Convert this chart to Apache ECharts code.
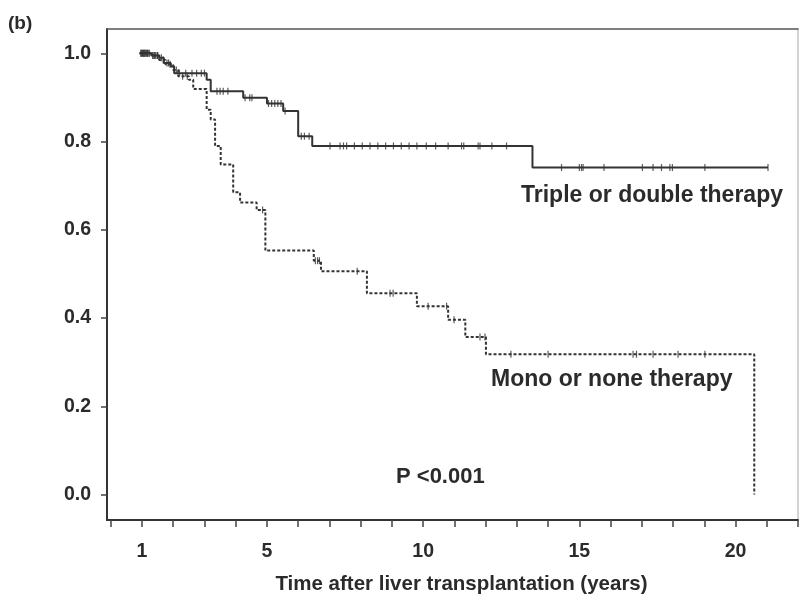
<!DOCTYPE html>
<html>
<head>
<meta charset="utf-8">
<script src="https://cdn.jsdelivr.net/npm/echarts@6/dist/echarts.min.js"></script>
<style>
  html, body { margin: 0; padding: 0; background: #fff; }
  #chart { width: 801px; height: 600px; }
</style>
</head>
<body>
<div id="chart"></div>
<script>
// Kaplan-Meier steps, triple or double therapy (time in years, survival)
const triTime = [0.92, 1.3, 1.55, 1.7, 1.92, 2.03, 3.07, 3.2, 4.24, 5.0, 5.52, 6.0, 6.45, 13.5, 21.04]
const triSurv = [1.0, 0.995, 0.99, 0.978, 0.97, 0.955, 0.94, 0.914, 0.899, 0.886, 0.869, 0.812, 0.79, 0.741, 0.741]
// censored patients (time)
const triCens = [0.96, 1.0, 1.04, 1.07, 1.1, 1.14, 1.18, 1.24, 1.35, 1.4, 1.45, 1.5, 1.62, 1.8, 1.85,
  2.2, 2.4, 2.6, 2.75, 2.9, 3.0,
  3.4, 3.5, 3.6, 3.75, 4.3, 4.45, 4.52, 5.05, 5.15, 5.25, 5.35, 5.45, 5.58, 6.1, 6.2, 6.35,
  7.02, 7.34, 7.45, 7.55, 7.8, 8.05, 8.3, 8.55, 8.8, 9.05, 9.3, 9.55, 9.8, 10.1, 10.4, 10.8,
  11.23, 11.3, 11.76, 11.82, 12.2, 12.67, 14.43, 15.0, 15.07, 15.12, 15.79, 17.02, 17.36,
  17.63, 17.9, 17.98, 19.02, 21.04]

// mono or none therapy
const monoTime = [0.92, 1.3, 1.55, 1.75, 2.0, 2.16, 2.5, 2.64, 3.07, 3.2, 3.34, 3.52, 3.92, 4.14, 4.67, 4.95, 6.5, 6.73, 8.2, 9.8, 10.8, 11.35, 12.01, 20.6]
const monoSurv = [1.0, 0.995, 0.985, 0.975, 0.962, 0.948, 0.94, 0.919, 0.872, 0.85, 0.79, 0.748, 0.685, 0.662, 0.645, 0.553, 0.53, 0.506, 0.456, 0.427, 0.396, 0.357, 0.318, 0.0]
const monoCens = [0.98, 1.02, 1.06, 1.1, 1.16, 1.2, 1.35, 1.42, 1.5, 1.68, 1.9, 2.1, 2.3, 2.45,
  4.86, 6.55, 6.62, 6.68,
  7.89, 8.94, 9.04, 10.16, 10.75, 10.99, 11.82, 11.98, 12.81, 14.0, 16.72, 16.83, 17.36, 18.16, 19.02]

// axis ticks
const xTicks = [0, 1, 2, 3, 4, 5, 6, 7, 8, 9, 10, 11, 12, 13, 14, 15, 16, 17, 18, 19, 20, 21, 22]
const xLabels = [1, 5, 10, 15, 20]
const yTicks = [0, 0.2, 0.4, 0.6, 0.8, 1.0]

const font = "'Liberation Sans', Arial, sans-serif"
const ink = '#2b2b2b'

// survival level of a curve at time t (for the censor marks)
const levelAt = (times, surv, t) => {
  let s = surv[0]
  for (let i = 0; i < times.length; i++) {
    if (times[i] <= t) s = surv[i]
  }
  return s
}

const chart = echarts.init(document.getElementById('chart'), null, { renderer: 'canvas' })

const lineStyleAxis = { color: '#333', width: 2 }

const option = {
  animation: false,
  backgroundColor: '#fff',
  grid: { left: 107, right: 3, top: 29, bottom: 78 },
  xAxis: [
    {
      type: 'value',
      min: -0.12,
      max: 22,
      position: 'bottom',
      axisLine: { onZero: false, lineStyle: lineStyleAxis },
      axisTick: { customValues: xTicks, length: 7, lineStyle: { color: '#444', width: 1.5 } },
      axisLabel: {
        customValues: xLabels,
        margin: 22,
        fontFamily: font, fontWeight: 'bold', fontSize: 19.5, color: ink
      },
      splitLine: { show: false },
      name: 'Time after liver transplantation (years)',
      nameLocation: 'middle',
      nameGap: 54,
      nameTextStyle: { fontFamily: font, fontWeight: 'bold', fontSize: 20.5, color: ink, padding: [0, 0, 0, 18] }
    },
    {
      type: 'value', min: -0.12, max: 22, position: 'top',
      axisLine: { onZero: false, lineStyle: { color: '#555', width: 1.5 } },
      axisTick: { show: false }, axisLabel: { show: false }, splitLine: { show: false }
    }
  ],
  yAxis: [
    {
      type: 'value',
      min: -0.0576,
      max: 1.055,
      position: 'left',
      axisLine: { show: true, onZero: false, lineStyle: lineStyleAxis },
      axisTick: { show: true, customValues: yTicks, length: 6, lineStyle: { color: '#444', width: 1.5 } },
      axisLabel: {
        customValues: yTicks,
        margin: 16,
        formatter: v => v.toFixed(1),
        fontFamily: font, fontWeight: 'bold', fontSize: 19.5, color: ink
      },
      splitLine: { show: false }
    },
    {
      type: 'value', min: -0.0576, max: 1.055, position: 'right',
      axisLine: { show: true, onZero: false, lineStyle: { color: '#c4c4c4', width: 1.5 } },
      axisTick: { show: false }, axisLabel: { show: false }, splitLine: { show: false }
    }
  ],
  graphic: [
    {
      type: 'text', left: 8, top: 14,
      style: { text: '(b)', font: "bold 19px " + font, fill: ink }
    },
    {
      type: 'text', x: 521, y: 196,
      style: { text: 'Triple or double therapy', font: "bold 23px " + font, fill: ink, verticalAlign: 'middle' }
    },
    {
      type: 'text', x: 491, y: 380,
      style: { text: 'Mono or none therapy', font: "bold 23px " + font, fill: ink, verticalAlign: 'middle' }
    },
    {
      type: 'text', x: 396, y: 477,
      style: { text: 'P <0.001', font: "bold 22px " + font, fill: ink, verticalAlign: 'middle' }
    }
  ],
  series: [
    {
      name: 'Triple or double therapy',
      type: 'line',
      step: 'end',
      showSymbol: false,
      data: triTime.map((t, i) => [t, triSurv[i]]),
      lineStyle: { color: '#333', width: 2 },
      z: 3
    },
    {
      name: 'Mono or none therapy',
      type: 'line',
      step: 'end',
      showSymbol: false,
      data: monoTime.map((t, i) => [t, monoSurv[i]]),
      lineStyle: { color: '#333', width: 2, type: [3, 2] },
      z: 2
    },
    {
      name: 'triple censored',
      type: 'scatter',
      symbol: 'rect',
      symbolSize: [1.2, 7],
      itemStyle: { color: '#333' },
      data: triCens.map(t => [t, levelAt(triTime, triSurv, t)]),
      z: 4
    },
    {
      name: 'mono censored',
      type: 'scatter',
      symbol: 'rect',
      symbolSize: [1.2, 7],
      itemStyle: { color: '#333' },
      data: monoCens.map(t => [t, levelAt(monoTime, monoSurv, t)]),
      z: 4
    }
  ]
}

chart.setOption(option)
</script>
</body>
</html>
